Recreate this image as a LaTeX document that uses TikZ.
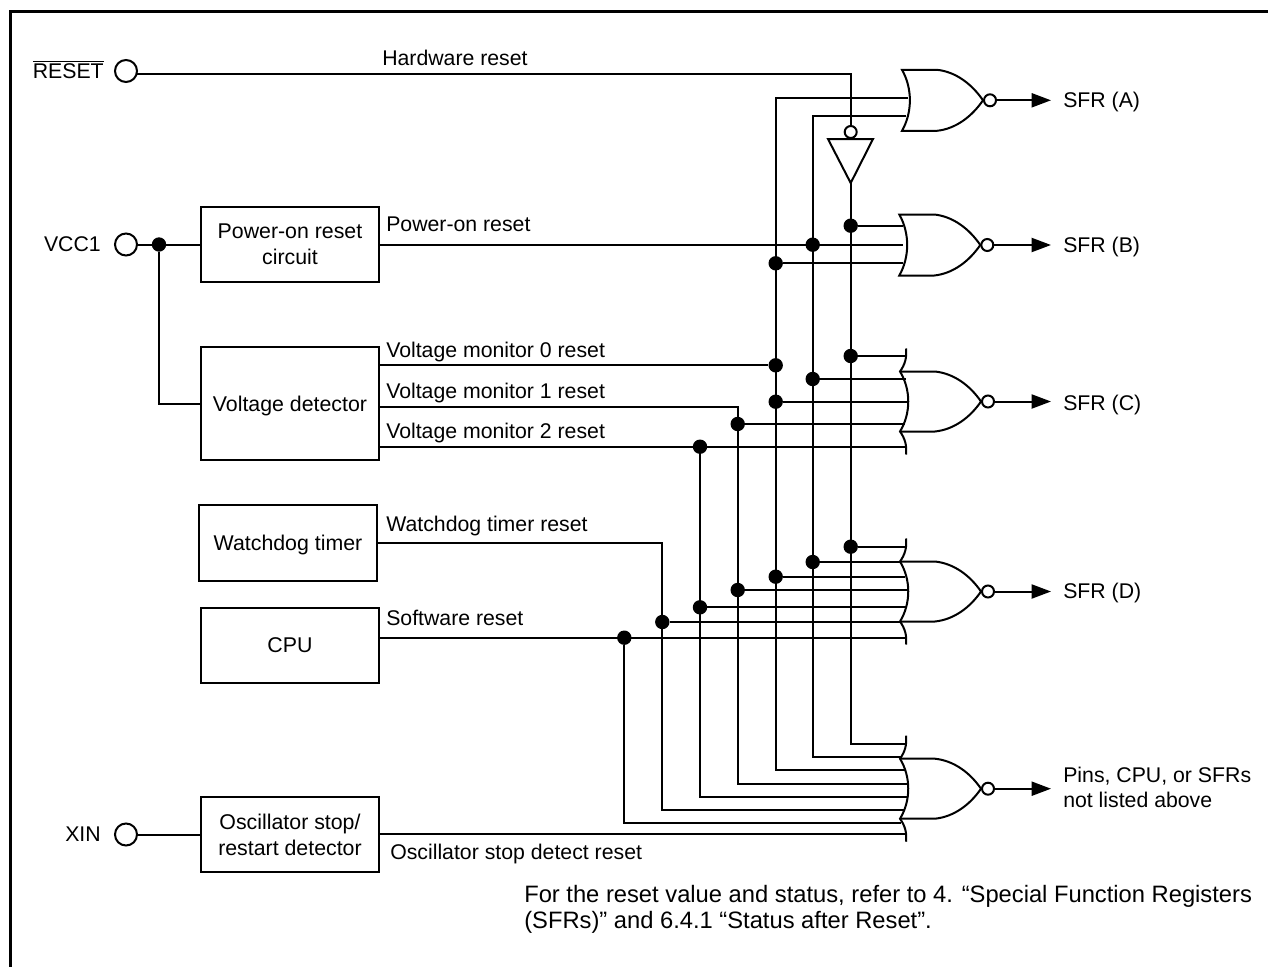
\documentclass[tikz,border=0pt]{standalone}
\usepackage{fontspec}
\setmainfont{Liberation Sans}
\usetikzlibrary{arrows.meta}
\tikzset{
  x=0.75pt,y=-0.75pt,
  wire/.style={line width=1.5pt,line cap=butt,line join=miter},
  blockbox/.style={draw,line width=1.5pt,minimum width=133.5pt,minimum height=56.5pt,inner sep=0pt,align=center,font=\fontsize{16}{19.5}\selectfont},
  lbl/.style={inner sep=0pt,anchor=base west,yshift=-5.6pt,font=\fontsize{15.95}{19}\selectfont},
  notelbl/.style={inner sep=0pt,anchor=base west,yshift=-5.9pt,font=\fontsize{17.8}{21}\selectfont},
  pinlbl/.style={inner sep=0pt,anchor=base east,yshift=-5.6pt,font=\fontsize{15.95}{19}\selectfont},
  pin/.style={circle,draw,line width=1.5pt,minimum size=16.5pt,inner sep=0pt},
  bubble/.style={circle,draw,fill=white,line width=1.5pt,minimum size=9pt,inner sep=0pt},
  dot/.style={circle,fill=black,minimum size=10.8pt,inner sep=0pt},
  outarrow/.style={wire,-{Triangle[length=14.5pt,width=10.5pt]}},
  norplain/.pic={
    \draw[wire] (0,-30.5) -- (35,-30.5) .. controls (54,-28.5) and (70,-16) .. (81,0)
      .. controls (70,16) and (54,28.5) .. (35,30.5) -- (0,30.5)
      .. controls (10.5,12) and (10.5,-12) .. cycle;
    \node[bubble] (-out) at (88,0) {};
  },
  norwide/.pic={
    \draw[wire] (0,-30) -- (35,-30) .. controls (54,-28) and (70,-16) .. (81,0)
      .. controls (70,16) and (54,28) .. (35,30) -- (0,30);
    \draw[wire] (6,-53) .. controls (7,-44) and (5,-37) .. (0,-30)
      .. controls (11,-12) and (11,12) .. (0,30)
      .. controls (5,37) and (7,44) .. (6,53);
    \node[bubble] (-out) at (88,0) {};
  }
}
\begin{document}
\begin{tikzpicture}
\useasboundingbox (0,0) rectangle (1268,967);
% frame
\draw[line width=2.7pt] (10.3,967) -- (10.3,11.5) -- (1268,11.5);

% pins
\node[pin] (pinR) at (126,71) {};
\node[pin] (pinV) at (126,244.5) {};
\node[pin] (pinX) at (126,834.5) {};
\node[pinlbl] (tR) at (104,71) {$\overline{\mbox{RESET}}$};
\node[pinlbl] (tV) at (101,244) {VCC1};
\node[pinlbl] (tX) at (101,834) {XIN};

% blocks
\node[blockbox] (por) at (290,244.5) {Power-on reset\\circuit};
\node[blockbox,minimum height=84.7pt,text depth=0pt] (vd) at (290,403.5) {Voltage detector};
\node[blockbox,text depth=0pt] (wdt) at (288,543) {Watchdog timer};
\node[blockbox] (cpu) at (290,645.5) {CPU};
\node[blockbox] (osc) at (290,834.5) {Oscillator stop/\\restart detector};

% gates
\pic (gA) at (902,100.3) {norplain};
\pic (gB) at (899.3,245) {norplain};
\pic (gC) at (900,401.5) {norwide};
\pic (gD) at (900,591.5) {norwide};
\pic (gE) at (900,788.7) {norwide};

% inverter
\node[bubble] (invb) at (850.7,132) {};
\coordinate (invtop) at (850.7,139);
\coordinate (invapex) at (850.7,183);
\draw[wire] (828,139) -- (873,139) -- (invapex) -- cycle;

% columns
\coordinate (busF) at (624.3,637.7);
\coordinate (busW) at (662.3,543);
\coordinate (busV2) at (700,446.7);
\coordinate (busV1) at (737.7,406.7);
\coordinate (busV0) at (775.7,97.7);
\coordinate (busP) at (812.7,116);
\coordinate (hwc) at (850.7,74);

% junction dots
\node[dot] (jVcc) at (159,244.5) {};
\node[dot] (jB1) at (850.7,225.7) {};
\node[dot] (jB2) at (812.7,244.7) {};
\node[dot] (jB3) at (775.7,263.3) {};
\node[dot] (jC0) at (775.7,365.3) {};
\node[dot] (jC1) at (850.7,356) {};
\node[dot] (jC2) at (812.7,379) {};
\node[dot] (jC3) at (775.7,401.7) {};
\node[dot] (jC4) at (737.7,424) {};
\node[dot] (jC5) at (700,446.7) {};
\node[dot] (jD1) at (850.7,546.7) {};
\node[dot] (jD2) at (812.7,562) {};
\node[dot] (jD3) at (775.7,576.7) {};
\node[dot] (jD4) at (737.7,590) {};
\node[dot] (jD5) at (700,607.3) {};
\node[dot] (jD6) at (662.3,622) {};
\node[dot] (jD7) at (624.3,637.7) {};

% gate input ends
\coordinate (a1) at (908,97.7);   \coordinate (a2) at (906,116);
\coordinate (b1) at (903,225.7);  \coordinate (b2) at (903,244.7); \coordinate (b3) at (903,263.3);
\coordinate (c1) at (906,356);    \coordinate (c2) at (906,379);   \coordinate (c3) at (908,401.7);
\coordinate (c4) at (905,424);    \coordinate (c5) at (906,446.7);
\coordinate (d1) at (906,546.7);  \coordinate (d2) at (901,562);   \coordinate (d3) at (905,576.7);
\coordinate (d4) at (907,590);    \coordinate (d5) at (906,607.3); \coordinate (d6) at (901,622);
\coordinate (d7) at (906,637.7);
\coordinate (e1) at (905,743.7);  \coordinate (e2) at (901,756.7); \coordinate (e3) at (905,770);
\coordinate (e4) at (906.5,784.3);\coordinate (e5) at (906.5,797); \coordinate (e6) at (904,810);
\coordinate (e7) at (901,822.7);  \coordinate (e8) at (905,834.3);

% supply and hardware reset wires
\draw[wire] (137,74) -- (hwc) -- (invb);
\draw[wire] (invapex) |- (e1);
\draw[wire] (pinV) -- (por);
\draw[wire] (jVcc) |- (vd.west);
\draw[wire] (pinX) -- (osc);

% vertical buses with their feeds
\draw[wire] (a1) -- (busV0) |- (e3);
\draw[wire] (a2) -- (busP) |- (e2);
\draw[wire] (por.east |- b2) -- (b2);
\draw[wire] (vd.east |- jC0) -- (jC0);
\draw[wire] (vd.east |- busV1) -- (busV1) |- (e4);
\draw[wire] (vd.east |- c5) -- (c5);
\draw[wire] (jC5) |- (e5);
\draw[wire] (wdt.east |- busW) -- (busW) |- (e6);
\draw[wire] (cpu.east |- d7) -- (d7);
\draw[wire] (jD7) |- (e7);
\draw[wire] (osc.east |- e8) -- (e8);

% branches
\draw[wire] (jB1) -- (b1);
\draw[wire] (jB3) -- (b3);
\draw[wire] (jC1) -- (c1);
\draw[wire] (jC2) -- (c2);
\draw[wire] (jC3) -- (c3);
\draw[wire] (jC4) -- (c4);
\draw[wire] (jD1) -- (d1);
\draw[wire] (jD2) -- (d2);
\draw[wire] (jD3) -- (d3);
\draw[wire] (jD4) -- (d4);
\draw[wire] (jD5) -- (d5);
\draw[wire] (jD6) -- (d6);

% outputs
\coordinate (oA) at (1051,100.3);
\coordinate (oB) at (1051,245);
\coordinate (oC) at (1051,401.5);
\coordinate (oD) at (1051,591.5);
\coordinate (oE) at (1051,788.7);
\draw[outarrow] (gA-out) -- (oA);
\draw[outarrow] (gB-out) -- (oB);
\draw[outarrow] (gC-out) -- (oC);
\draw[outarrow] (gD-out) -- (oD);
\draw[outarrow] (gE-out) -- (oE);
\node[lbl] (lA) at (1063,100) {SFR (A)};
\node[lbl] (lB) at (1063,245) {SFR (B)};
\node[lbl] (lC) at (1063,403) {SFR (C)};
\node[lbl] (lD) at (1063,591) {SFR (D)};
\node[lbl] (lE1) at (1063,775) {Pins, CPU, or SFRs};
\node[lbl] (lE2) at (1063,800) {not listed above};

% signal labels
\node[lbl] (s1) at (382,58) {Hardware reset};
\node[lbl] (s2) at (386,224) {Power-on reset};
\node[lbl] (s3) at (386,350) {Voltage monitor 0 reset};
\node[lbl] (s4) at (386,391) {Voltage monitor 1 reset};
\node[lbl] (s5) at (386,431) {Voltage monitor 2 reset};
\node[lbl] (s6) at (386,524) {Watchdog timer reset};
\node[lbl] (s7) at (386,618) {Software reset};
\node[lbl] (s8) at (390,852) {Oscillator stop detect reset};
\node[notelbl] (n1) at (524,895) {For the reset value and status, refer to 4. “Special Function Registers};
\node[notelbl] (n2) at (524,921) {(SFRs)” and 6.4.1 “Status after Reset”.};
\end{tikzpicture}
\end{document}
